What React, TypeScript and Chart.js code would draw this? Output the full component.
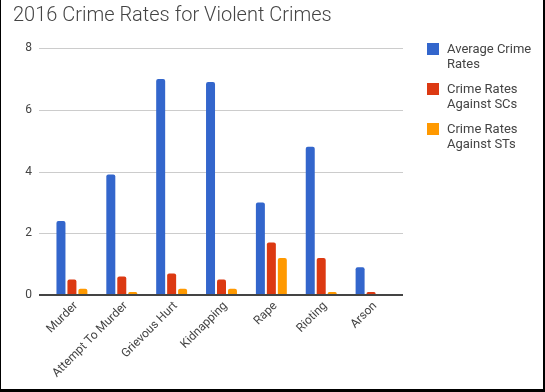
import React, { useEffect, useRef } from "react";
import { Chart, registerables } from "chart.js";

Chart.register(...registerables);

const categories = ["Murder", "Attempt To Murder", "Grievous Hurt", "Kidnapping", "Rape", "Rioting", "Arson"];
const averageRates = [2.4, 3.9, 7.0, 6.9, 3.0, 4.8, 0.9];
const scRates = [0.5, 0.6, 0.7, 0.5, 1.7, 1.2, 0.1];
const stRates = [0.2, 0.1, 0.2, 0.2, 1.2, 0.1, 0.0];
const seriesNames = [["Average Crime", "Rates"], ["Crime Rates", "Against SCs"], ["Crime Rates", "Against STs"]];
const colors = ["#3366cc", "#dc3912", "#ff9900"];
const yTicks = [0, 2, 4, 6, 8];

const gridPlugin = {
  id: "extGrid",
  beforeDatasetsDraw(chart: any) {
    const { ctx, chartArea, scales } = chart;
    const y = scales.y;
    ctx.save();
    ctx.strokeStyle = "#cccccc";
    ctx.lineWidth = 1;
    yTicks.forEach((v) => {
      if (v === 0) return;
      const py = Math.round(y.getPixelForValue(v)) + 0.5;
      ctx.beginPath();
      ctx.moveTo(chartArea.left - 8, py);
      ctx.lineTo(chartArea.right + 7, py);
      ctx.stroke();
    });
    ctx.restore();
  },
  afterDatasetsDraw(chart: any) {
    const { ctx, chartArea, scales } = chart;
    const py = scales.y.getPixelForValue(0);
    ctx.save();
    ctx.strokeStyle = "#444444";
    ctx.lineWidth = 2;
    ctx.beginPath();
    ctx.moveTo(chartArea.left - 8, py);
    ctx.lineTo(chartArea.right + 7, py);
    ctx.stroke();
    ctx.restore();
  },
};

export default function App() {
  const ref = useRef<HTMLCanvasElement | null>(null);

  useEffect(() => {
    if (!ref.current) return;
    const mk = (label: string, data: number[], color: string) => ({
      label,
      data,
      backgroundColor: color,
      borderRadius: { topLeft: 2, topRight: 2, bottomLeft: 0, bottomRight: 0 },
      borderSkipped: false as any,
      categoryPercentage: 0.66,
      barPercentage: 0.82,
    });
    const chart = new Chart(ref.current, {
      type: "bar",
      data: {
        labels: categories,
        datasets: [
          mk(seriesNames[0].join(" "), averageRates, colors[0]),
          mk(seriesNames[1].join(" "), scRates, colors[1]),
          mk(seriesNames[2].join(" "), stRates, colors[2]),
        ],
      },
      options: {
        animation: false,
        responsive: false,
        layout: { padding: { left: 13, right: 149, top: 0, bottom: 0 } },
        plugins: {
          legend: { display: false },
          tooltip: { enabled: false },
          title: {
            display: true,
            text: "2016 Crime Rates for Violent Crimes",
            align: "start",
            color: "#444444",
            font: { family: "Roboto", size: 20, weight: 300 as any },
            padding: { top: 4, bottom: 20 },
          },
        },
        scales: {
          x: {
            grid: { display: false, drawTicks: false },
            border: { display: false },
            ticks: {
              color: "#444444",
              font: { family: "Roboto", size: 12 },
              maxRotation: 45,
              minRotation: 45,
              padding: 4,
              labelOffset: 4,
              autoSkip: false,
            },
            afterFit(scale: any) {
              scale.height = 97;
            },
          },
          y: {
            min: 0,
            max: 8,
            grid: { display: false, drawTicks: false },
            border: { display: false },
            ticks: {
              stepSize: 2,
              color: "#444444",
              font: { family: "Roboto", size: 12 },
              padding: 15,
            },
            afterFit(scale: any) {
              scale.width = 34;
            },
          },
        },
      },
      plugins: [gridPlugin],
    });
    return () => chart.destroy();
  }, []);

  return (
    <div style={{ position: "absolute", left: 0, top: 0, width: 545, height: 392, background: "#fff", overflow: "hidden" }}>
      <canvas ref={ref} width={545} height={392} style={{ position: "absolute", left: 0, top: 0 }} />
      {seriesNames.map((lines, i) => (
        <div key={i} style={{ position: "absolute", left: 427, top: 41 + i * 40 }}>
          <div style={{ position: "absolute", left: 0, top: 2, width: 12, height: 12, background: colors[i] }} />
          <div
            style={{
              position: "absolute",
              left: 20,
              top: 0,
              whiteSpace: "nowrap",
              fontFamily: "Roboto",
              fontSize: 13,
              lineHeight: "15px",
              color: "#444444",
            }}
          >
            {lines[0]}
            <br />
            {lines[1]}
          </div>
        </div>
      ))}
      <div
        style={{
          position: "absolute",
          left: 0,
          top: 0,
          width: 545,
          height: 392,
          boxSizing: "border-box",
          borderLeft: "1px solid #000",
          borderRight: "2px solid #000",
          borderBottom: "3px solid #000",
          pointerEvents: "none",
        }}
      />
    </div>
  );
}
